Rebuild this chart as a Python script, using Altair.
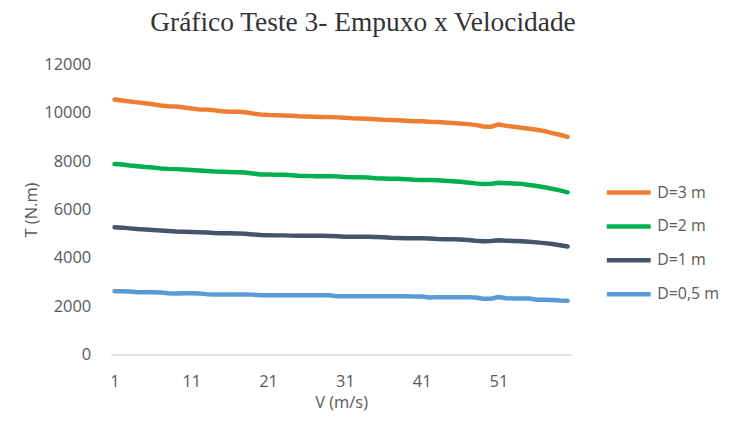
import altair as alt
import pandas as pd

V = list(range(1, 61))

D3 = [10550, 10510, 10470, 10430, 10390, 10350, 10300, 10270, 10260, 10220,
      10180, 10140, 10130, 10100, 10060, 10040, 10040, 10020, 9970, 9930,
      9910, 9900, 9890, 9880, 9860, 9850, 9840, 9830, 9820, 9810,
      9790, 9770, 9760, 9750, 9730, 9710, 9700, 9690, 9670, 9650,
      9650, 9630, 9620, 9600, 9580, 9560, 9530, 9500, 9430, 9420,
      9520, 9460, 9420, 9380, 9340, 9300, 9240, 9160, 9090, 9000]

D2 = [7880, 7860, 7820, 7790, 7760, 7740, 7700, 7680, 7670, 7650,
      7630, 7610, 7590, 7570, 7560, 7550, 7540, 7530, 7490, 7450,
      7450, 7440, 7440, 7420, 7400, 7390, 7380, 7380, 7380, 7370,
      7340, 7330, 7330, 7320, 7290, 7280, 7270, 7270, 7250, 7230,
      7220, 7220, 7210, 7190, 7170, 7150, 7120, 7080, 7050, 7060,
      7110, 7090, 7080, 7060, 7010, 6970, 6920, 6860, 6790, 6710]

D1 = [5270, 5250, 5220, 5190, 5170, 5150, 5130, 5110, 5090, 5080,
      5070, 5060, 5050, 5030, 5020, 5020, 5010, 5000, 4970, 4950,
      4940, 4930, 4930, 4920, 4910, 4910, 4910, 4910, 4900, 4890,
      4870, 4870, 4870, 4870, 4860, 4850, 4830, 4820, 4810, 4810,
      4810, 4800, 4780, 4770, 4770, 4760, 4740, 4710, 4690, 4700,
      4730, 4710, 4700, 4690, 4670, 4640, 4610, 4570, 4520, 4470]

D05 = [2620, 2620, 2610, 2580, 2580, 2580, 2570, 2540, 2530, 2540,
       2540, 2530, 2500, 2490, 2490, 2490, 2490, 2490, 2480, 2450,
       2450, 2450, 2450, 2450, 2450, 2450, 2450, 2450, 2450, 2410,
       2410, 2410, 2410, 2410, 2410, 2410, 2410, 2410, 2410, 2400,
       2400, 2360, 2370, 2370, 2370, 2370, 2370, 2360, 2310, 2310,
       2380, 2330, 2320, 2320, 2320, 2270, 2270, 2260, 2240, 2230]

SERIES = ["D=3 m", "D=2 m", "D=1 m", "D=0,5 m"]
COLORS = ["#ED7D31", "#00B050", "#44546A", "#5B9BD5"]
X_TICKS = [1, 11, 21, 31, 41, 51]
Y_TICKS = [0, 2000, 4000, 6000, 8000, 10000, 12000]

rows = []
for name, vals in zip(SERIES, [D3, D2, D1, D05]):
    for v, t in zip(V, vals):
        rows.append({"V": v, "T": t, "serie": name})
df = pd.DataFrame(rows)

FONT = "Open Sans"

chart = alt.Chart(df).mark_line(strokeWidth=4.5, strokeCap="round", strokeJoin="round").encode(
    x=alt.X("V:Q", scale=alt.Scale(domain=[0.5, 60.5], nice=False, zero=False),
            axis=alt.Axis(values=X_TICKS, title="V (m/s)", grid=False, ticks=False, format="d",
                          domainColor="#D9D9D9", domainWidth=1.5,
                          labelPadding=19, titlePadding=5)),
    y=alt.Y("T:Q", scale=alt.Scale(domain=[0, 12000], nice=False),
            axis=alt.Axis(values=Y_TICKS, title="T (N.m)", grid=False, ticks=False, format="d",
                          domain=False, labelPadding=20, titlePadding=4)),
    color=alt.Color("serie:N", scale=alt.Scale(domain=SERIES, range=COLORS),
                    legend=alt.Legend(title=None, orient="none", legendX=495, legendY=104,
                                      symbolType="stroke", symbolSize=1936,
                                      symbolStrokeWidth=4.5, rowPadding=-6,
                                      labelFontSize=16, labelFont=FONT, labelColor="#595959",
                                      labelOffset=4, padding=0, labelLimit=200)),
    detail="serie:N",
).properties(
    width=462,
    height=291,
    title=alt.TitleParams("Gráfico Teste 3- Empuxo x Velocidade", font="Liberation Serif",
                          fontSize=27.5, fontWeight="normal", color="#333333",
                          anchor="middle", dx=22, offset=20),
    padding={"left": 103, "top": 56, "right": 150, "bottom": 58},
    autosize=alt.AutoSizeParams(type="none"),
).configure_view(
    stroke=None
).configure_axis(
    labelFont=FONT, labelFontSize=16.5, labelColor="#595959",
    titleFont=FONT, titleFontSize=16.5, titleColor="#595959", titleFontWeight="normal",
)

chart.save("out.html", embed_options={"renderer": "svg", "actions": False})
